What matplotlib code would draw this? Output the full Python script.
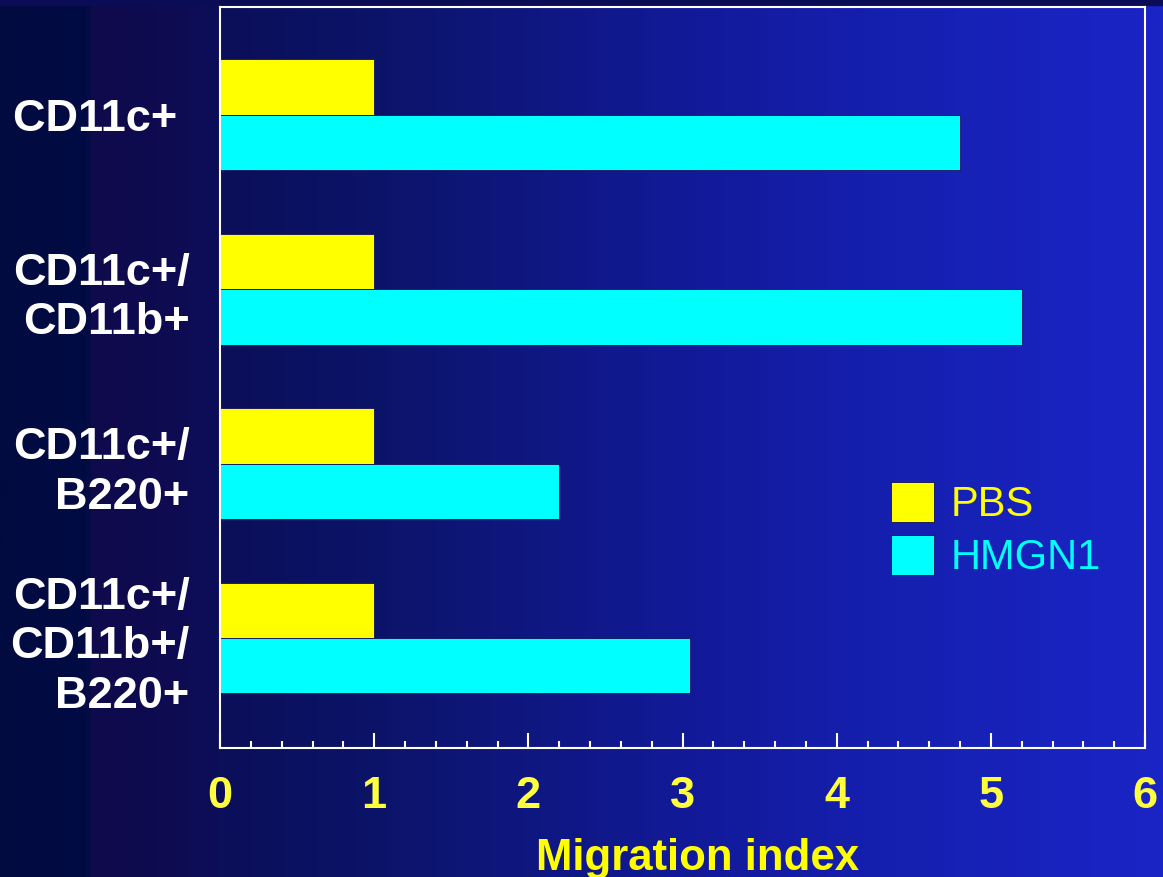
import numpy as np
import matplotlib.pyplot as plt
from matplotlib.colors import LinearSegmentedColormap
from matplotlib.ticker import MultipleLocator

plt.rcParams['font.family'] = ['Liberation Sans', 'DejaVu Sans']

# cell populations and migration index per treatment
populations = ['CD11c+ ', 'CD11c+/\nCD11b+', 'CD11c+/\nB220+', 'CD11c+/\nCD11b+/\nB220+']
pbs = [1.0, 1.0, 1.0, 1.0]
hmgn1 = [4.8, 5.2, 2.2, 3.05]
series_names = ['PBS', 'HMGN1']
series_colors = ['#FFFF00', '#00FFFF']
xticks = [0, 1, 2, 3, 4, 5, 6]

W, H = 1163, 877
fig = plt.figure(figsize=(W / 100, H / 100), dpi=100)

# slide background: dark navy on the left, bright blue on the right
bg = fig.add_axes([0, 0, 1, 1], zorder=-1)
stops = [(0.0, '#010B40'), (0.074, '#020C44'), (0.077, '#0E0A4C'), (0.13, '#0F0B50'),
         (0.2, '#0B0F5A'), (0.33, '#0C146A'), (0.6, '#121A9A'), (0.77, '#1520B0'),
         (0.98, '#1A24C4'), (1.0, '#1A24C6')]
cmap = LinearSegmentedColormap.from_list('slide', stops)
bg.imshow(np.linspace(0, 1, 1024)[None, :], cmap=cmap, aspect='auto', extent=[0, W, H, 0])
# dark band and fading grey rule along the top edge
bg.axhspan(0, 5, color='#0A0D55')
rule = np.zeros((1, 512, 4))
rule[..., :3] = 0.85
rule[..., 3] = np.clip(1 - np.linspace(0, 1, 512) / 0.8, 0, 1)
bg.imshow(rule, aspect='auto', extent=[0, W, 3, 0])
bg.set_xlim(0, W)
bg.set_ylim(H, 0)
bg.axis('off')

# bar chart
ax = fig.add_axes([220 / W, 1 - 748 / H, 925 / W, 741 / H])
ax.set_facecolor('none')
pos = np.arange(len(populations))
h = 0.318
ax.barh(pos - h / 2, pbs, height=h, color=series_colors[0], edgecolor='#10105a',
        linewidth=0.6, label=series_names[0])
ax.barh(pos + h / 2, hmgn1, height=h, color=series_colors[1], edgecolor='#10105a',
        linewidth=0.6, label=series_names[1])
ax.set_xlim(0, 6)
ax.set_ylim(3.631, -0.619)

for s in ax.spines.values():
    s.set_color('white')
    s.set_linewidth(1.5)

ax.set_xticks(xticks, [str(t) for t in xticks], fontsize=32.5, fontweight='bold', color='#FFFF40')
ax.xaxis.set_minor_locator(MultipleLocator(0.2))
ax.tick_params(axis='x', which='major', direction='in', length=10.5, width=1.5,
               color='white', pad=20)
ax.tick_params(axis='x', which='minor', direction='in', length=5, width=1.5, color='white')
ax.set_yticks(pos, populations, fontsize=32.5, fontweight='bold', color='white', linespacing=1.27)
ax.tick_params(axis='y', length=0, pad=22)

ax.set_xlabel('Migration index', fontsize=31.5, fontweight='bold', color='#FFFF00',
              labelpad=15, x=0.516)

leg = ax.legend(loc='upper left', bbox_to_anchor=(891 / W, 1 - 482 / H),
                bbox_transform=fig.transFigure, frameon=False, fontsize=30,
                handlelength=1.03, handleheight=1.1, handletextpad=0.4,
                labelspacing=0.23, borderpad=0, borderaxespad=0)
for text, c in zip(leg.get_texts(), series_colors):
    text.set_color(c)

fig.savefig('out.png', dpi=100)
